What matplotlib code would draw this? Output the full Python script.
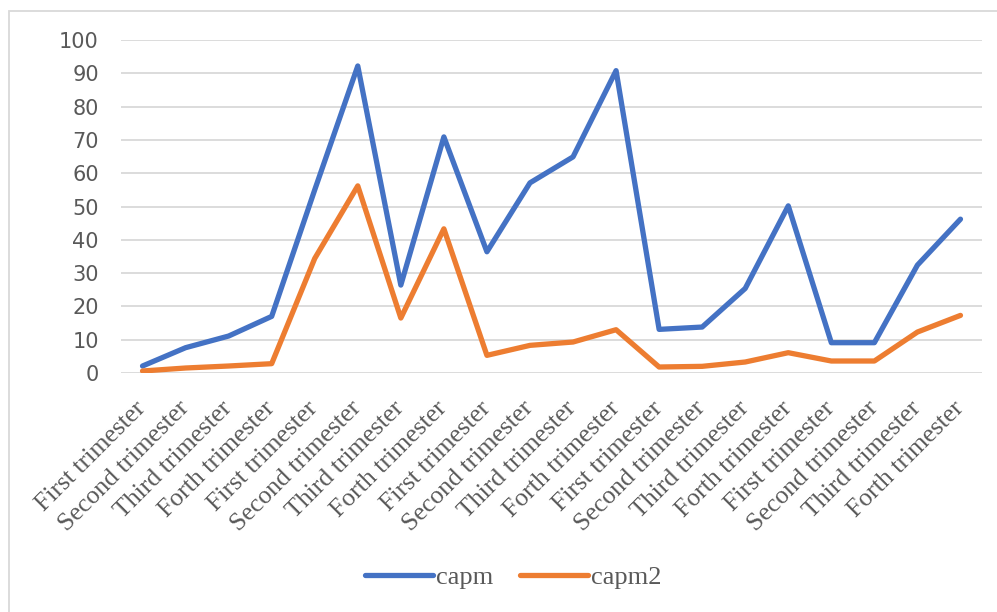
import matplotlib.pyplot as plt
from matplotlib.patches import Rectangle

labels = ["First trimester", "Second trimester", "Third trimester", "Forth trimester"] * 5
capm = [2.1, 7.6, 11.1, 17.0, 55.0, 92.2, 26.4, 70.9, 36.4, 57.1,
        64.9, 90.8, 13.1, 13.8, 25.4, 50.2, 9.1, 9.1, 32.4, 46.2]
capm2 = [0.6, 1.5, 2.1, 2.8, 34.4, 56.2, 16.5, 43.3, 5.3, 8.3,
         9.3, 13.0, 1.8, 2.0, 3.3, 6.1, 3.6, 3.6, 12.3, 17.3]

W, H = 997, 612
fig = plt.figure(figsize=(W / 100, H / 100), dpi=100)
ax = fig.add_axes([121 / W, 1 - 373 / H, (982 - 121) / W, (373 - 40) / H])

# chart border (runs off the right and bottom edge)
fig.patches.append(Rectangle((9 / W, -0.01), 1.0, 1 - 11 / H + 0.01, transform=fig.transFigure,
                             fill=False, edgecolor="#d9d9d9", linewidth=1.3))

x = list(range(len(labels)))
ax.plot(x, capm, color="#4472C4", lw=3.8, label="capm",
        solid_joinstyle="round", solid_capstyle="round", zorder=3)
ax.plot(x, capm2, color="#ED7D31", lw=3.8, label="capm2",
        solid_joinstyle="round", solid_capstyle="round", zorder=3)

ax.set_xlim(-0.5, len(labels) - 0.5)
ax.set_ylim(0, 100)
ax.set_yticks(range(0, 101, 10))
ax.grid(axis="y", color="#d9d9d9", lw=1.3)
ax.set_axisbelow(True)
for s in ax.spines.values():
    s.set_visible(False)

ax.set_xticks(x)
ax.set_xticklabels(labels, rotation=45, ha="right", va="center", rotation_mode="anchor",
                   family="Liberation Serif", fontsize=18.5, color="#595959")
ax.tick_params(axis="x", length=0, pad=23)
ax.tick_params(axis="y", length=0, pad=16, labelsize=15, labelcolor="#595959")

ax.legend(loc="center", bbox_to_anchor=(513 / W, 1 - 577 / H), bbox_transform=fig.transFigure,
          ncol=2, frameon=False, handlelength=2.6, handletextpad=0.1, columnspacing=1.0,
          prop={"family": "Liberation Serif", "size": 19}, labelcolor="#595959")

fig.savefig("out.png", dpi=100)
